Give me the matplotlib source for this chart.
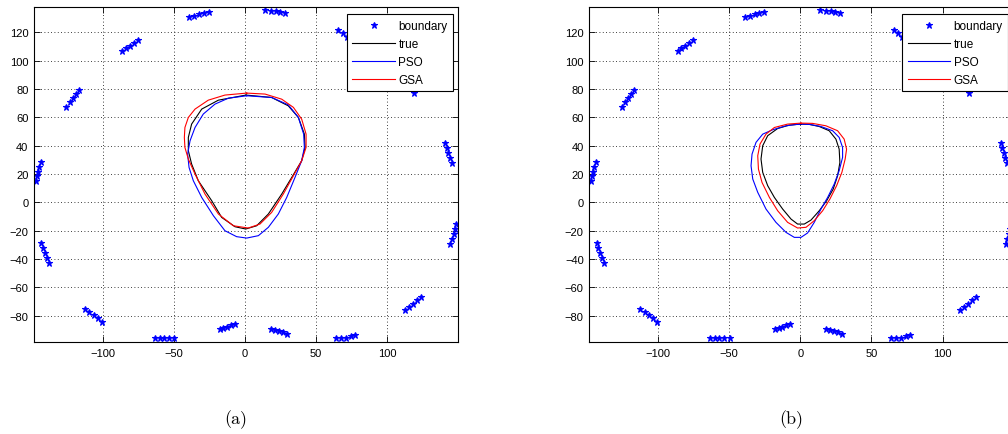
import numpy as np
import matplotlib.pyplot as plt

plt.rcParams['font.family'] = ['Liberation Sans', 'DejaVu Sans']

# boundary measurement points (16 groups of 5)
bnd_x = [-147.0, -146.3, -145.6, -144.7, -143.5,
         -125.5, -123.1, -120.8, -118.7, -116.6,
         -86.2, -83.6, -80.9, -78.0, -75.1,
         -39.1, -35.6, -32.1, -28.8, -25.5,
         14.0, 18.3, 21.6, 24.6, 28.1,
         65.5, 68.6, 71.7, 74.8, 77.9,
         104.0, 107.5, 111.0, 114.8, 118.5,
         140.7, 141.7, 142.8, 144.0, 145.2,
         148.0, 147.3, 146.6, 145.4, 144.2,
         112.4, 115.2, 118.0, 120.8, 123.4,
         63.7, 67.2, 70.7, 74.2, 77.2,
         18.3, 21.1, 23.9, 26.7, 29.3,
         -17.8, -15.2, -12.6, -10.0, -7.2,
         -63.2, -59.9, -56.9, -53.4, -49.6,
         -112.4, -109.3, -106.2, -103.2, -100.4,
         -143.0, -142.0, -140.6, -139.2, -137.6]
bnd_y = [14.8, 18.5, 21.8, 25.3, 28.7,
         67.5, 70.6, 73.8, 76.6, 79.5,
         106.6, 108.7, 110.8, 112.9, 115.0,
         131.0, 131.7, 132.9, 133.8, 134.5,
         136.2, 135.5, 135.2, 134.5, 133.8,
         121.6, 119.3, 117.0, 114.7, 112.4,
         92.0, 88.5, 85.0, 81.3, 77.6,
         41.8, 38.3, 34.7, 31.2, 27.7,
         -15.3, -18.8, -22.4, -25.9, -29.4,
         -76.0, -73.9, -71.8, -69.0, -66.6,
         -95.8, -95.6, -95.6, -94.6, -93.9,
         -89.4, -90.0, -90.7, -91.7, -92.7,
         -89.6, -88.7, -87.8, -86.6, -85.7,
         -96.0, -96.0, -96.0, -96.0, -96.0,
         -75.1, -77.4, -79.5, -81.9, -84.5,
         -28.5, -32.3, -35.8, -39.3, -42.8]

# (a) reconstructed contours
a_true_x = [0.7, -18.7, -30.4, -37.5, -39.8, -39.8, -37.5, -32.8, -23.4, -16.4, -7.0, 0.5,
            8.2, 16.4, 25.8, 32.8, 39.8, 42.2, 41.7, 37.5, 30.4, 18.7, 0.7]
a_true_y = [75.8, 72.2, 65.9, 55.3, 45.9, 36.5, 27.1, 15.3, 1.2, -10.6, -17.2, -18.8,
            -16.5, -8.2, 5.9, 17.6, 29.4, 38.8, 48.2, 60.0, 68.2, 74.1, 75.8]
a_pso_x = [1.2, -11.7, -21.1, -29.3, -35.1, -38.6, -40.3, -39.3, -36.3, -30.4, -22.2, -14.1, -5.9,
           1.2, 9.4, 16.4, 23.4, 29.3, 35.1, 39.8, 41.7, 41.2, 37.5, 30.4, 18.7, 1.2]
a_pso_y = [75.3, 73.6, 69.4, 62.4, 52.9, 43.5, 34.1, 24.7, 15.3, 3.5, -9.4, -20.0, -24.2,
           -25.2, -23.5, -17.6, -8.2, 3.5, 17.6, 29.4, 38.8, 48.2, 60.0, 68.9, 74.1, 75.3]
a_gsa_x = [1.2, -14.1, -25.8, -35.1, -39.8, -42.2, -42.6, -42.2, -39.8, -35.1, -28.1, -18.7, -8.2,
           2.3, 10.5, 18.7, 26.9, 34.0, 39.8, 42.9, 42.9, 39.8, 34.0, 25.8, 14.1, 1.2]
a_gsa_y = [77.2, 75.8, 72.2, 65.9, 60.0, 52.9, 45.9, 38.8, 30.6, 20.0, 5.9, -8.2, -16.5,
           -18.1, -15.3, -7.1, 5.9, 18.8, 29.4, 38.8, 48.2, 58.8, 67.1, 72.9, 76.5, 77.2]

# (b) reconstructed contours
b_true_x = [0.5, -7.7, -15.9, -22.9, -26.4, -27.6, -26.4, -22.9, -18.2, -12.4, -6.5, -1.9,
            2.8, 7.5, 13.3, 18.5, 23.1, 26.2, 27.8, 27.3, 25.0, 20.3, 13.3, 6.3, 0.5]
b_true_y = [55.3, 54.6, 52.2, 47.1, 40.0, 30.6, 21.2, 11.8, 3.5, -4.7, -11.8, -15.3,
            -15.3, -12.5, -5.9, 1.2, 9.4, 18.8, 28.2, 37.6, 44.7, 50.6, 53.6, 55.1, 55.3]
b_pso_x = [-0.7, -10.0, -19.4, -26.4, -31.1, -33.9, -34.6, -33.4, -29.9, -24.1, -17.1, -10.0, -4.2,
           0.5, 5.1, 9.8, 14.5, 19.2, 23.8, 27.3, 29.7, 29.7, 27.3, 22.7, 14.5, 6.3, -0.7]
b_pso_y = [55.3, 54.1, 51.3, 48.2, 42.4, 34.1, 25.9, 16.5, 7.1, -4.7, -14.1, -21.2, -24.7,
           -24.7, -21.6, -14.1, -4.7, 3.5, 12.9, 22.4, 31.8, 38.8, 45.9, 50.6, 53.6, 55.1, 55.3]
b_gsa_x = [0.5, -8.9, -18.2, -24.1, -28.3, -29.9, -29.4, -26.9, -21.7, -15.9, -8.9, -1.9,
           4.0, 9.8, 15.7, 20.8, 25.5, 29.2, 31.5, 32.5, 30.8, 26.2, 18.0, 8.6, 0.5]
b_gsa_y = [56.0, 55.3, 52.9, 48.2, 41.2, 32.9, 23.5, 14.1, 3.5, -5.9, -14.1, -18.1,
           -17.6, -12.9, -5.9, 2.4, 11.8, 21.2, 30.6, 37.6, 44.7, 50.6, 54.1, 55.8, 56.0]

panels = [
    ('(a)', a_true_x, a_true_y, a_pso_x, a_pso_y, a_gsa_x, a_gsa_y),
    ('(b)', b_true_x, b_true_y, b_pso_x, b_pso_y, b_gsa_x, b_gsa_y),
]

fig = plt.figure(figsize=(10.08, 4.35), dpi=100)
lefts = [34 / 1008, 589.3 / 1008]
w = 424 / 1008
caption_x = [236 / 1008, 791 / 1008]

for k, (cap, tx, ty, px, py, gx, gy) in enumerate(panels):
    ax = fig.add_axes([lefts[k], 92 / 435, w, 335 / 435])
    ax.plot(bnd_x, bnd_y, 'b*', ms=5, mew=0.8, label='boundary')
    ax.plot(tx, ty, 'k-', lw=0.8, label='true')
    ax.plot(px, py, '-', color='#0000ff', lw=0.8, label='PSO')
    ax.plot(gx, gy, '-', color='#ff0000', lw=0.8, label='GSA')
    ax.set_xlim(-148.2, 149.6)
    ax.set_ylim(-98.6, 138)
    ax.set_xticks([-100, -50, 0, 50, 100])
    ax.set_yticks(np.arange(-80, 121, 20))
    ax.grid(True, linestyle=(0, (1, 3)), color='k', lw=0.6)
    ax.tick_params(direction='in', top=True, right=True, length=4, width=0.6,
                   labelsize=8, pad=4)
    for s in ax.spines.values():
        s.set_linewidth(0.8)
    leg = ax.legend(loc='upper right', bbox_to_anchor=(0.988, 0.978),
                    borderaxespad=0, fontsize=8.5, fancybox=False,
                    framealpha=1, edgecolor='k', handlelength=3.6,
                    handletextpad=0.3, labelspacing=0.52, borderpad=0.45)
    leg.get_frame().set_linewidth(0.8)
    leg.set_zorder(5)
    fig.text(caption_x[k], 15 / 435, cap, ha='center', va='center',
             fontsize=13, family='cmr10')

fig.savefig('out.png', dpi=100)
